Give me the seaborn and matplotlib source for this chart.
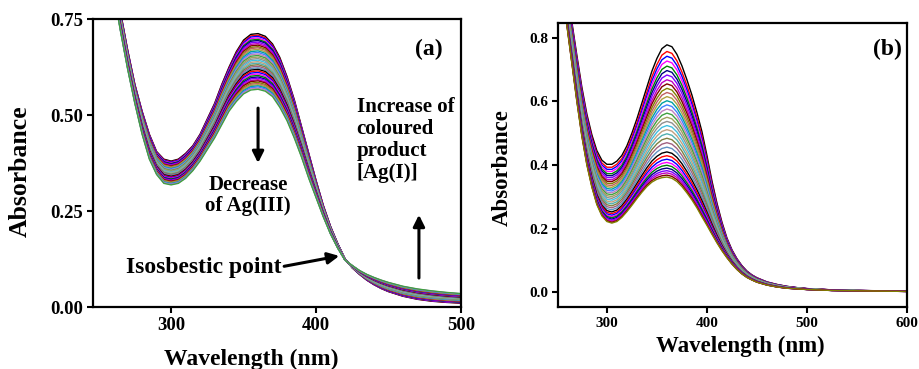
import numpy as np
import pandas as pd
import matplotlib
matplotlib.use("Agg")
import matplotlib.pyplot as plt
import seaborn as sns

# ---------------- data ----------------
# (a) wavelengths (nm) and the first / last recorded spectra
wl_a = [255, 260, 265, 270, 275, 280, 285, 290, 295, 300, 305, 310, 315, 320,
        325, 330, 335, 340, 345, 350, 355, 360, 365, 370, 375, 380, 385, 390,
        395, 400, 405, 410, 415, 420, 425, 430, 435, 440, 445, 450, 460, 470,
        480, 490, 500]
first_a = [1.00, 0.88, 0.77, 0.67, 0.58, 0.51, 0.45, 0.405, 0.385, 0.380, 0.385,
           0.400, 0.420, 0.450, 0.490, 0.530, 0.580, 0.625, 0.665, 0.695, 0.710,
           0.712, 0.705, 0.685, 0.650, 0.600, 0.540, 0.470, 0.400, 0.330, 0.265,
           0.210, 0.165, 0.125, 0.102, 0.085, 0.070, 0.058, 0.048, 0.040, 0.028,
           0.020, 0.015, 0.012, 0.010]
last_a = [0.95, 0.83, 0.72, 0.62, 0.53, 0.45, 0.385, 0.345, 0.322, 0.318, 0.322,
          0.335, 0.355, 0.380, 0.410, 0.440, 0.475, 0.510, 0.535, 0.555, 0.565,
          0.567, 0.562, 0.548, 0.520, 0.485, 0.440, 0.390, 0.335, 0.285, 0.235,
          0.190, 0.153, 0.122, 0.108, 0.095, 0.085, 0.077, 0.070, 0.064, 0.054,
          0.047, 0.042, 0.038, 0.035]
# absorbance at 360 nm for every scan in (a)
peaks_a = [0.712, 0.708, 0.705, 0.701, 0.697, 0.694, 0.690, 0.686, 0.682, 0.678,
           0.675, 0.671, 0.667, 0.663, 0.659, 0.655, 0.651, 0.647, 0.643, 0.639,
           0.635, 0.631, 0.627, 0.623, 0.619, 0.615, 0.611, 0.607, 0.603, 0.599,
           0.596, 0.592, 0.589, 0.585, 0.582, 0.579, 0.576, 0.573, 0.570, 0.567]

# (b) wavelengths (nm) and the first / last recorded spectra
wl_b = [255, 260, 265, 270, 275, 280, 285, 290, 295, 300, 305, 310, 315, 320,
        325, 330, 335, 340, 345, 350, 355, 360, 365, 370, 375, 380, 385, 390,
        395, 400, 405, 410, 415, 420, 425, 430, 435, 440, 445, 450, 460, 470,
        480, 490, 500, 525, 550, 575, 600]
first_b = [1.06, 0.95, 0.85, 0.745, 0.645, 0.56, 0.495, 0.445, 0.415, 0.402,
           0.402, 0.412, 0.430, 0.460, 0.500, 0.545, 0.595, 0.645, 0.695, 0.735,
           0.766, 0.778, 0.772, 0.748, 0.712, 0.668, 0.620, 0.565, 0.505, 0.430,
           0.350, 0.280, 0.220, 0.170, 0.133, 0.105, 0.083, 0.066, 0.054, 0.045,
           0.032, 0.024, 0.018, 0.014, 0.011, 0.007, 0.005, 0.004, 0.003]
last_b = [0.96, 0.84, 0.72, 0.60, 0.49, 0.40, 0.33, 0.275, 0.240, 0.222, 0.217,
          0.222, 0.235, 0.253, 0.273, 0.294, 0.314, 0.332, 0.346, 0.355, 0.360,
          0.362, 0.358, 0.348, 0.332, 0.312, 0.290, 0.265, 0.237, 0.210, 0.182,
          0.155, 0.130, 0.108, 0.088, 0.071, 0.057, 0.046, 0.038, 0.031, 0.022,
          0.016, 0.012, 0.010, 0.008, 0.005, 0.004, 0.003, 0.002]
# absorbance at 360 nm for every scan in (b)
peaks_b = [0.778, 0.757, 0.742, 0.727, 0.711, 0.697, 0.683, 0.668, 0.655, 0.641,
           0.628, 0.615, 0.602, 0.589, 0.576, 0.563, 0.550, 0.537, 0.524, 0.511,
           0.498, 0.484, 0.470, 0.456, 0.441, 0.429, 0.418, 0.408, 0.399, 0.390,
           0.382, 0.375, 0.368, 0.362]

scan_colors = ['#000000', '#ff0000', '#0000ff', '#ff00ff', '#008000', '#000080',
               '#8000ff', '#c000c0', '#800000', '#808000', '#c06060', '#b0a040',
               '#00a0a0', '#4080ff', '#c080c0', '#40a040', '#a0a060', '#909090',
               '#40c0e0', '#c0a080', '#50b0b0', '#808040', '#a06080', '#6090c0']


def scans_frame(wl, first, last, peaks):
    """Each scan as the two-component mixture of the first and last spectra
    that has the recorded absorbance at 360 nm."""
    wl = np.asarray(wl, float)
    first = np.asarray(first, float)
    last = np.asarray(last, float)
    i360 = int(np.argmin(np.abs(wl - 360)))
    rows = []
    for k, p in enumerate(peaks):
        w = (p - last[i360]) / (first[i360] - last[i360])
        a = last + w * (first - last)
        rows.append(pd.DataFrame({"wl": wl, "A": a, "scan": k}))
    return pd.concat(rows, ignore_index=True)


df_a = scans_frame(wl_a, first_a, last_a, peaks_a)
df_b = scans_frame(wl_b, first_b, last_b, peaks_b)

# ---------------- figure ----------------
sns.set_theme(style="ticks")
plt.rcParams["font.family"] = ["Liberation Serif", "DejaVu Serif"]
plt.rcParams["font.weight"] = "bold"
plt.rcParams["axes.labelweight"] = "bold"
plt.rcParams["text.color"] = "black"
plt.rcParams["axes.labelcolor"] = "black"
plt.rcParams["xtick.color"] = "black"
plt.rcParams["ytick.color"] = "black"
plt.rcParams["xtick.labelcolor"] = "black"
plt.rcParams["ytick.labelcolor"] = "black"

fig = plt.figure(figsize=(9.19, 3.69), dpi=100)
ax1 = fig.add_axes([0.101, 0.168, 0.4006, 0.7805])
ax2 = fig.add_axes([0.607, 0.168, 0.380, 0.770])

pal_a = [scan_colors[i % len(scan_colors)] for i in range(len(peaks_a))]
pal_b = [scan_colors[i % len(scan_colors)] for i in range(len(peaks_b))]

sns.lineplot(data=df_a, x="wl", y="A", hue="scan", palette=pal_a, legend=False,
             estimator=None, sort=False, linewidth=1.0, ax=ax1)
sns.lineplot(data=df_b, x="wl", y="A", hue="scan", palette=pal_b, legend=False,
             estimator=None, sort=False, linewidth=1.0, ax=ax2)

for ax in (ax1, ax2):
    for s in ax.spines.values():
        s.set_visible(True)
        s.set_linewidth(1.6)
        s.set_color("black")
    ax.tick_params(direction="out", length=4, width=1.5, colors="black",
                   top=False, right=False)

# panel (a)
ax1.set_xlim(246, 500)
ax1.set_ylim(0, 0.75)
ax1.set_xticks([300, 400, 500])
ax1.set_yticks([0.00, 0.25, 0.50, 0.75])
ax1.set_yticklabels(["0.00", "0.25", "0.50", "0.75"])
ax1.tick_params(labelsize=13.5, pad=3)
for lab in ax1.get_xticklabels() + ax1.get_yticklabels():
    lab.set_fontweight("bold")
ax1.set_xlabel("Wavelength (nm)", fontsize=17, fontweight="bold")
ax1.set_ylabel("Absorbance", fontsize=18.5, fontweight="bold")
ax1.xaxis.set_label_coords(0.43, -0.145, transform=ax1.transAxes)
ax1.yaxis.set_label_coords(-0.166, 0.47, transform=ax1.transAxes)

ax1.text(478, 0.67, "(a)", fontsize=17, fontweight="bold", ha="center", va="center")
ax1.text(428, 0.435, "Increase of\ncoloured\nproduct\n[Ag(I)]", fontsize=15,
         fontweight="bold", ha="left", va="center", linespacing=1.15)
ax1.text(353, 0.29, "Decrease\nof Ag(III)", fontsize=15, fontweight="bold",
         ha="center", va="center", linespacing=1.1)
ax1.text(376, 0.104, "Isosbestic point", fontsize=17, fontweight="bold",
         ha="right", va="center")

arrow = dict(arrowstyle="-|>", lw=2.2, color="black", mutation_scale=17,
             shrinkA=0, shrinkB=0)
ax1.annotate("", xy=(360, 0.375), xytext=(360, 0.518), arrowprops=arrow)
ax1.annotate("", xy=(471, 0.24), xytext=(471, 0.0755), arrowprops=arrow)
ax1.annotate("", xy=(416, 0.133), xytext=(378, 0.106), arrowprops=arrow)

# panel (b)
ax2.set_xlim(251, 600)
ax2.set_ylim(-0.047, 0.847)
ax2.set_xticks([300, 400, 500, 600])
ax2.set_yticks([0.0, 0.2, 0.4, 0.6, 0.8])
ax2.set_yticklabels(["0.0", "0.2", "0.4", "0.6", "0.8"])
ax2.tick_params(labelsize=11, pad=3)
for lab in ax2.get_xticklabels() + ax2.get_yticklabels():
    lab.set_fontweight("bold")
ax2.set_xlabel("Wavelength (nm)", fontsize=16.5, fontweight="bold")
ax2.set_ylabel("Absorbance", fontsize=16.5, fontweight="bold")
ax2.xaxis.set_label_coords(0.523, -0.10, transform=ax2.transAxes)
ax2.yaxis.set_label_coords(-0.129, 0.49, transform=ax2.transAxes)
ax2.text(580, 0.762, "(b)", fontsize=17, fontweight="bold", ha="center", va="center")

fig.savefig("out.png", dpi=100)
